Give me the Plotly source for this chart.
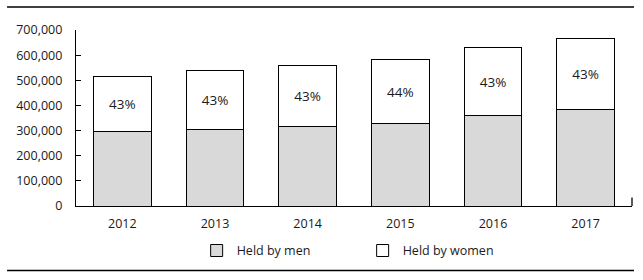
import plotly.graph_objects as go

years = ["2012", "2013", "2014", "2015", "2016", "2017"]
held_by_men = [295000, 304000, 315000, 327000, 358000, 384000]
held_by_women = [222000, 233000, 242000, 254000, 274000, 284000]
women_share_labels = ["43%", "43%", "43%", "44%", "43%", "43%"]
y_tick_values = [0, 100000, 200000, 300000, 400000, 500000, 600000, 700000]
y_tick_labels = ["0", "100,000", "200,000", "300,000", "400,000", "500,000", "600,000", "700,000"]

FONT = "Open Sans"
TXT = "#1a1a1a"

fig = go.Figure()
fig.add_trace(go.Bar(
    x=years, y=held_by_men, name="Held by men",
    marker=dict(color="#d9d9d9", line=dict(color="black", width=1)),
    width=0.62, hoverinfo="skip",
))
fig.add_trace(go.Bar(
    x=years, y=held_by_women, name="Held by women",
    marker=dict(color="white", line=dict(color="black", width=1)),
    width=0.62, text=women_share_labels, textposition="inside",
    insidetextanchor="middle", textangle=0,
    textfont=dict(family=FONT, size=13.5, color=TXT),
    hoverinfo="skip",
))

fig.update_layout(
    barmode="stack",
    width=643, height=280,
    margin=dict(l=76, r=11, t=30, b=74, autoexpand=False),
    paper_bgcolor="white", plot_bgcolor="white",
    font=dict(family=FONT, size=12.5, color=TXT),
    showlegend=True,
    legend=dict(
        orientation="h", x=0.217, xanchor="left", y=-0.255, yanchor="middle",
        font=dict(family=FONT, size=12.5, color=TXT),
        entrywidth=121, entrywidthmode="pixels",
        bgcolor="rgba(0,0,0,0)", traceorder="normal",
    ),
    xaxis=dict(
        showline=True, linecolor="black", linewidth=1.3,
        ticks="", showgrid=False, ticklabelstandoff=6, automargin=False,
        tickfont=dict(family=FONT, size=12.5, color=TXT),
        range=[-0.5, 5.5],
    ),
    yaxis=dict(
        range=[0, 700000], tickvals=y_tick_values, ticktext=y_tick_labels,
        showline=True, linecolor="black", linewidth=1.3, automargin=False,
        ticks="inside", ticklen=5, tickcolor="black", tickwidth=1.3,
        showgrid=False, zeroline=False, ticklabelstandoff=10,
        tickfont=dict(family=FONT, size=12.5, color=TXT),
    ),
)

# top and bottom rule lines, and the right-end tick on the category axis
fig.add_shape(type="line", xref="paper", yref="paper",
              x0=-0.124, x1=1.0036, y0=1.13, y1=1.13,
              line=dict(color="black", width=1.5))
fig.add_shape(type="line", xref="paper", yref="paper",
              x0=-0.124, x1=1.0036, y0=-0.367, y1=-0.367,
              line=dict(color="black", width=1.5))
fig.add_shape(type="line", xref="paper", yref="paper",
              x0=1, x1=1, y0=0, y1=0.048,
              line=dict(color="black", width=1.3))

fig.write_html(
    "out.html",
    config={"displayModeBar": False},
    post_script="document.body.style.margin='0px';document.body.style.overflow='hidden';",
)
